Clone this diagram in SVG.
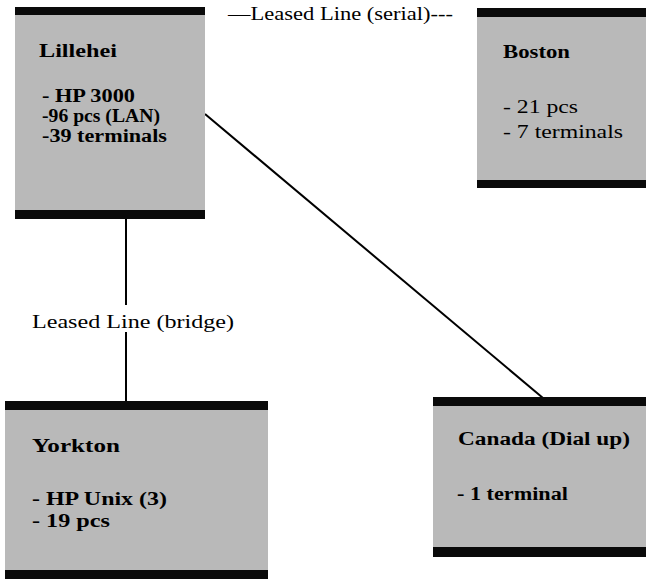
<svg xmlns="http://www.w3.org/2000/svg" width="646" height="579" viewBox="0 0 646 579">
<style>
.fill{fill:#b9b9b9}
.bar{fill:#0a0a0a}
.conn{stroke:#000;stroke-width:2;fill:none}
</style>
<rect width="646" height="579" fill="#fff"/>
<g id="connectors">
<line class="conn" x1="205" y1="114" x2="543" y2="398"/>
<line class="conn" x1="126" y1="219" x2="126" y2="305"/>
<line class="conn" x1="126" y1="332" x2="126" y2="402"/>
<text x="32" y="328" font-family="Liberation Serif" font-size="19" textLength="202" lengthAdjust="spacingAndGlyphs">Leased Line (bridge)</text>
<text x="228" y="20" font-family="Liberation Serif" font-size="19" textLength="225" lengthAdjust="spacingAndGlyphs">&#8212;Leased Line (serial)---</text>
</g>
<g id="lillehei">
<rect class="fill" x="15" y="15" width="190" height="195"/>
<rect class="bar" x="15" y="7" width="190" height="8"/>
<rect class="bar" x="15" y="210" width="190" height="9"/>
<text x="39" y="57" font-family="Liberation Serif" font-size="18" font-weight="bold" textLength="78" lengthAdjust="spacingAndGlyphs">Lillehei</text>
<text x="42" y="102" font-family="Liberation Serif" font-size="18" font-weight="bold" textLength="93" lengthAdjust="spacingAndGlyphs">- HP 3000</text>
<text x="42" y="122" font-family="Liberation Serif" font-size="18" font-weight="bold" textLength="118" lengthAdjust="spacingAndGlyphs">-96 pcs (LAN)</text>
<text x="42" y="142" font-family="Liberation Serif" font-size="18" font-weight="bold" textLength="125" lengthAdjust="spacingAndGlyphs">-39 terminals</text>
</g>
<g id="boston">
<rect class="fill" x="477" y="17" width="169" height="163"/>
<rect class="bar" x="477" y="8" width="169" height="9"/>
<rect class="bar" x="477" y="180" width="169" height="8"/>
<text x="503" y="58" font-family="Liberation Serif" font-size="18" font-weight="bold" textLength="67" lengthAdjust="spacingAndGlyphs">Boston</text>
<text x="503" y="113" font-family="Liberation Serif" font-size="18" textLength="75" lengthAdjust="spacingAndGlyphs">- 21 pcs</text>
<text x="503" y="138" font-family="Liberation Serif" font-size="18" textLength="120" lengthAdjust="spacingAndGlyphs">- 7 terminals</text>
</g>
<g id="yorkton">
<rect class="fill" x="5" y="410" width="263" height="160"/>
<rect class="bar" x="5" y="401" width="263" height="9"/>
<rect class="bar" x="5" y="570" width="263" height="9"/>
<text x="32" y="452" font-family="Liberation Serif" font-size="18" font-weight="bold" textLength="88" lengthAdjust="spacingAndGlyphs">Yorkton</text>
<text x="32" y="505" font-family="Liberation Serif" font-size="18" font-weight="bold" textLength="135" lengthAdjust="spacingAndGlyphs">- HP Unix (3)</text>
<text x="32" y="527" font-family="Liberation Serif" font-size="18" font-weight="bold" textLength="78" lengthAdjust="spacingAndGlyphs">- 19 pcs</text>
</g>
<g id="canada">
<rect class="fill" x="433" y="406" width="213" height="141"/>
<rect class="bar" x="433" y="397" width="213" height="9"/>
<rect class="bar" x="433" y="547" width="213" height="10"/>
<text x="458" y="445" font-family="Liberation Serif" font-size="18" font-weight="bold" textLength="172" lengthAdjust="spacingAndGlyphs">Canada (Dial up)</text>
<text x="457" y="500" font-family="Liberation Serif" font-size="18" font-weight="bold" textLength="111" lengthAdjust="spacingAndGlyphs">- 1 terminal</text>
</g>
</svg>
